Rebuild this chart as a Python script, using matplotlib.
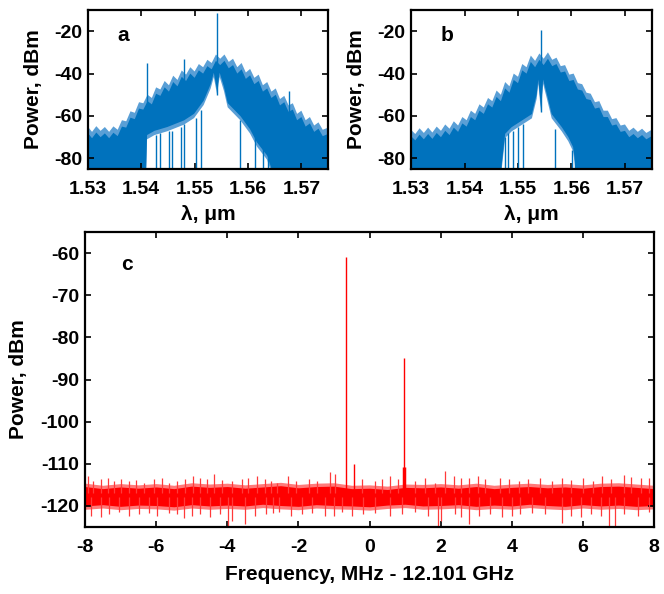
import numpy as np
import matplotlib
matplotlib.use('Agg')
import matplotlib.pyplot as plt

plt.rcParams['font.family'] = ['Liberation Sans', 'DejaVu Sans']
plt.rcParams['font.weight'] = 'bold'
plt.rcParams['axes.labelweight'] = 'bold'
plt.rcParams['axes.unicode_minus'] = False

BLUE = '#0072BD'
BLUE_L = '#5A9FD6'
RED = '#FF0000'
RED_L = '#FF7A7A'
RED_M = '#FF3A3A'

# ---------------- panel a (optical spectrum) ----------------
a_up_wl = [1.5300, 1.5308, 1.5316, 1.5324, 1.5332, 1.5340, 1.5348, 1.5356, 1.5364, 1.5372,
           1.5380, 1.5388, 1.5396, 1.5404, 1.5412, 1.5420, 1.5428, 1.5436, 1.5444, 1.5452,
           1.5460, 1.5468, 1.5476, 1.5484, 1.5492, 1.5500, 1.5508, 1.5516, 1.5524, 1.5532,
           1.5540, 1.5548, 1.5556, 1.5564, 1.5572, 1.5580, 1.5588, 1.5596, 1.5604, 1.5612,
           1.5620, 1.5628, 1.5636, 1.5644, 1.5652, 1.5660, 1.5668, 1.5676, 1.5684, 1.5692,
           1.5700, 1.5708, 1.5716, 1.5724, 1.5732, 1.5740, 1.5750]
a_up = [-65.0, -67.5, -64.8, -67.0, -65.2, -67.5, -64.9, -66.5, -62.0, -62.5,
        -57.8, -58.5, -53.5, -54.0, -50.0, -51.5, -46.5, -47.5, -43.5, -45.5,
        -41.0, -43.0, -38.5, -40.5, -37.0, -39.0, -35.5, -37.0, -33.5, -35.0,
        -31.0, -33.0, -31.0, -34.5, -33.0, -37.0, -35.0, -39.5, -37.8, -42.0,
        -40.5, -45.5, -44.0, -48.5, -47.0, -52.0, -50.5, -55.0, -54.0, -59.0,
        -57.5, -62.0, -60.5, -64.5, -63.0, -66.5, -65.5]
a_lo_wl = [1.5300, 1.5409, 1.5411, 1.5425, 1.5449, 1.5480, 1.5499, 1.5517, 1.5530, 1.5536,
           1.5542, 1.5547, 1.5555, 1.5562, 1.5586, 1.5604, 1.5617, 1.5636, 1.5648, 1.5750]
a_lo = [-90, -90, -71.0, -69.0, -67.2, -64.1, -61.0, -54.8, -47.1, -41.6,
        -49.7, -41.6, -48.2, -55.9, -62.1, -68.3, -74.5, -80.7, -90, -90]
a_spike_wl = [1.5410, 1.5480, 1.5542, 1.5676]
a_spike_top = [-35.0, -33.0, -11.5, -48.0]
a_spike_base = [-60.0, -45.0, -50.0, -58.0]
a_dip_wl = [1.54278, 1.54349, 1.54525, 1.54568, 1.54742, 1.54803, 1.5502, 1.55125,
            1.55855, 1.56133, 1.56288, 1.5638]
a_dip_top = [-69, -68, -67, -67, -65, -64, -61, -57, -62, -70, -75, -80]

# ---------------- panel b (optical spectrum) ----------------
b_up_wl = a_up_wl
b_up = [-66.5, -68.5, -65.8, -68.0, -65.5, -67.8, -65.0, -67.0, -64.0, -66.0,
        -62.5, -64.5, -60.5, -62.0, -57.5, -59.0, -54.5, -56.0, -51.5, -53.0,
        -48.0, -50.0, -44.0, -46.0, -40.0, -41.5, -35.5, -37.0, -31.5, -34.0,
        -30.5, -33.0, -30.0, -33.5, -32.5, -36.5, -36.0, -40.5, -40.0, -44.5,
        -45.0, -49.0, -49.5, -53.5, -53.0, -57.5, -57.5, -61.5, -61.0, -64.5,
        -64.0, -67.0, -65.5, -67.5, -66.0, -68.0, -66.5]
b_lo_wl = [1.5300, 1.5468, 1.5470, 1.5476, 1.5488, 1.5507, 1.5526, 1.5535, 1.5538, 1.5543,
           1.5547, 1.5554, 1.5563, 1.5582, 1.5594, 1.5603, 1.5610, 1.5750]
b_lo = [-90, -90, -84.0, -70.4, -67.3, -64.2, -61.1, -51.8, -44.8, -58.0,
        -44.8, -51.8, -61.1, -67.3, -71.9, -76.6, -90, -90]
b_spike_wl = [1.5543]
b_spike_top = [-19.5]
b_spike_base = [-58.0]
b_dip_wl = [1.5476, 1.54822, 1.54915, 1.55009, 1.55102, 1.55692, 1.56003, 1.56065]
b_dip_top = [-70, -68, -67, -65, -64, -66, -76, -80]

# ---------------- panel c (RF spectrum) ----------------
c_f = [-8.0, -7.5, -7.0, -6.5, -6.0, -5.5, -5.0, -4.5, -4.0, -3.5, -3.0, -2.5, -2.0,
       -1.5, -1.0, -0.5, 0.0, 0.5, 1.0, 1.5, 2.0, 2.5, 3.0, 3.5, 4.0, 4.5, 5.0, 5.5,
       6.0, 6.5, 7.0, 7.5, 8.0]
c_up = [-115.4, -115.9, -115.5, -115.8, -115.5, -115.9, -115.3, -115.6, -115.4, -115.8,
        -115.5, -115.2, -115.7, -115.4, -115.3, -115.9, -115.8, -116.1, -115.6, -115.7,
        -115.5, -115.8, -115.4, -115.9, -115.6, -115.4, -115.7, -115.5, -115.8, -115.4,
        -115.3, -115.6, -115.9]
c_lo = [-120.0, -119.7, -120.1, -119.8, -119.9, -120.2, -119.7, -120.0, -119.8, -120.0,
        -119.6, -119.9, -120.1, -119.7, -119.9, -120.0, -120.2, -119.8, -119.6, -120.0,
        -119.9, -119.7, -120.1, -119.8, -120.0, -119.6, -119.9, -120.1, -119.7, -120.0,
        -119.8, -120.1, -119.9]
c_upspike_f = [-7.92, -7.78, -7.55, -7.36, -7.18, -6.99, -6.76, -6.57, -6.34, -6.06,
               -5.83, -5.64, -5.41, -5.18, -4.97, -4.76, -4.57, -4.36, -4.15, -3.87,
               -3.59, -3.41, -3.17, -2.94, -2.76, -2.60, -2.29, -2.08, -1.71, -1.48,
               -1.11, -0.97, -0.22, 0.15, 0.34, 0.57, 0.80, 1.27, 1.55, 1.83,
               2.11, 2.38, 2.57, 2.79, 3.05, 3.25, 3.67, 3.91, 4.19, 4.46,
               4.79, 5.12, 5.40, 5.67, 6.00, 6.28, 6.53, 6.79, 7.16, 7.35,
               7.63, 7.86]
c_upspike_top = [-112.9, -114.1, -113.7, -113.3, -114.1, -113.7, -114.1, -113.9, -114.5, -113.7,
                 -113.3, -114.5, -114.1, -113.7, -112.9, -113.4, -113.7, -112.5, -113.9, -114.1,
                 -113.7, -113.3, -112.9, -113.7, -114.1, -114.5, -112.9, -114.1, -113.7, -114.1,
                 -111.9, -112.5, -113.7, -114.1, -113.7, -112.9, -113.7, -114.1, -113.3, -114.5,
                 -111.8, -112.9, -113.3, -113.3, -112.9, -113.7, -113.3, -113.7, -114.1, -113.7,
                 -113.3, -114.1, -113.4, -113.9, -113.3, -114.1, -112.9, -113.7, -112.7, -113.1,
                 -113.4, -113.3]
c_dnspike_f = [-7.83, -7.55, -7.32, -7.04, -6.76, -6.48, -6.20, -5.97, -5.64, -5.41,
               -5.22, -4.99, -4.76, -4.48, -4.20, -3.97, -3.87, -3.50, -3.22, -2.90,
               -2.71, -2.55, -2.22, -1.90, -1.62, -1.24, -1.01, -0.78, -0.50, -0.17,
               0.15, 0.57, 0.90, 1.27, 1.64, 1.92, 2.02, 2.39, 2.57, 2.79,
               3.07, 3.39, 3.72, 4.00, 4.23, 4.56, 4.93, 5.40, 5.67, 5.95,
               6.23, 6.51, 6.72, 6.89, 7.16, 7.54, 7.86]
c_dnspike_bot = [-122.3, -122.7, -121.9, -121.5, -122.3, -121.9, -121.7, -122.3, -121.7, -121.9,
                 -122.9, -122.3, -121.9, -122.7, -121.9, -124.7, -123.5, -124.3, -122.3, -121.9,
                 -121.7, -121.5, -122.3, -121.9, -121.7, -122.3, -122.5, -121.5, -122.3, -121.9,
                 -121.7, -122.3, -121.9, -121.5, -122.3, -124.7, -123.5, -121.9, -122.7, -124.3,
                 -122.3, -121.9, -122.7, -122.3, -121.9, -121.7, -121.9, -124.1, -122.3, -122.7,
                 -121.9, -122.3, -124.7, -124.7, -121.9, -122.3, -121.5]
c_peak_f = [-0.65, 0.97, -0.45]
c_peak_top = [-61.0, -84.8, -110.0]
c_bump_f = [0.97]
c_bump_top = [-110.8]


def style(ax, xlim, ylim, xticks, yticks, xfmt=None):
    ax.set_xlim(*xlim)
    ax.set_ylim(*ylim)
    ax.set_xticks(xticks)
    ax.set_yticks(yticks)
    if xfmt:
        ax.set_xticklabels([xfmt.format(v) for v in xticks])
    ax.tick_params(direction='in', top=True, right=True, length=4, width=1.2,
                   labelsize=14)
    ax.tick_params(axis='x', pad=9)
    ax.tick_params(axis='y', pad=4)
    for s in ax.spines.values():
        s.set_linewidth(1.6)
    for lab in ax.get_xticklabels() + ax.get_yticklabels():
        lab.set_fontweight('bold')


def optical(ax, up_wl, up, lo_wl, lo, sp_wl, sp_top, sp_base, dip_wl, dip_top, letter):
    up = np.asarray(up, float)
    lo = np.asarray(lo, float)
    xs = np.concatenate([up_wl, lo_wl[::-1]])
    ax.fill(xs, np.concatenate([up, lo[::-1]]), color=BLUE_L, lw=0)
    ax.fill(xs, np.concatenate([up - 3.0, lo[::-1] + 2.0]), color=BLUE, lw=0)
    ax.vlines(dip_wl, -90, dip_top, color=BLUE, lw=1.0)
    ax.vlines(sp_wl, sp_base, sp_top, color=BLUE, lw=1.0)
    style(ax, (1.53, 1.575), (-85, -10), [1.53, 1.54, 1.55, 1.56, 1.57],
          [-80, -60, -40, -20], xfmt='{:.2f}')
    ax.set_xlabel('λ, μm', fontsize=15, fontweight='bold', labelpad=5)
    ax.set_ylabel('Power, dBm', fontsize=15, fontweight='bold', labelpad=8)
    ax.text(1.5355, -22, letter, fontsize=15, fontweight='bold', va='center')


fig = plt.figure(figsize=(6.64, 5.94), dpi=100)
ax_a = fig.add_axes([0.1322, 0.7155, 0.3619, 0.2677])
ax_b = fig.add_axes([0.6190, 0.7155, 0.3625, 0.2677])
ax_c = fig.add_axes([0.1280, 0.1128, 0.8570, 0.4966])

optical(ax_a, a_up_wl, a_up, a_lo_wl, a_lo, a_spike_wl, a_spike_top, a_spike_base,
        a_dip_wl, a_dip_top, 'a')
optical(ax_b, b_up_wl, b_up, b_lo_wl, b_lo, b_spike_wl, b_spike_top, b_spike_base,
        b_dip_wl, b_dip_top, 'b')

c_up_a = np.asarray(c_up)
c_lo_a = np.asarray(c_lo)
ax_c.fill_between(c_f, c_lo_a - 0.8, c_up_a + 0.8, color=RED_L, lw=0)
ax_c.fill_between(c_f, c_lo_a, c_up_a, color=RED, lw=0)
ax_c.vlines(c_upspike_f, -117, c_upspike_top, color=RED_M, lw=0.9)
ax_c.vlines(c_dnspike_f, c_dnspike_bot, -118, color=RED_M, lw=0.9)
ax_c.vlines(c_peak_f, -116, c_peak_top, color=RED, lw=1.0)
ax_c.vlines(c_bump_f, -116, c_bump_top, color=RED, lw=2.5)
style(ax_c, (-8, 8), (-125, -55), list(range(-8, 9, 2)),
      [-120, -110, -100, -90, -80, -70, -60])
ax_c.set_xlabel('Frequency, MHz - 12.101 GHz', fontsize=15, fontweight='bold', labelpad=6)
ax_c.set_ylabel('Power, dBm', fontsize=15, fontweight='bold', labelpad=9)
ax_c.text(-6.97, -62.6, 'c', fontsize=15, fontweight='bold', va='center', ha='left')

fig.savefig('out.png', dpi=100)
